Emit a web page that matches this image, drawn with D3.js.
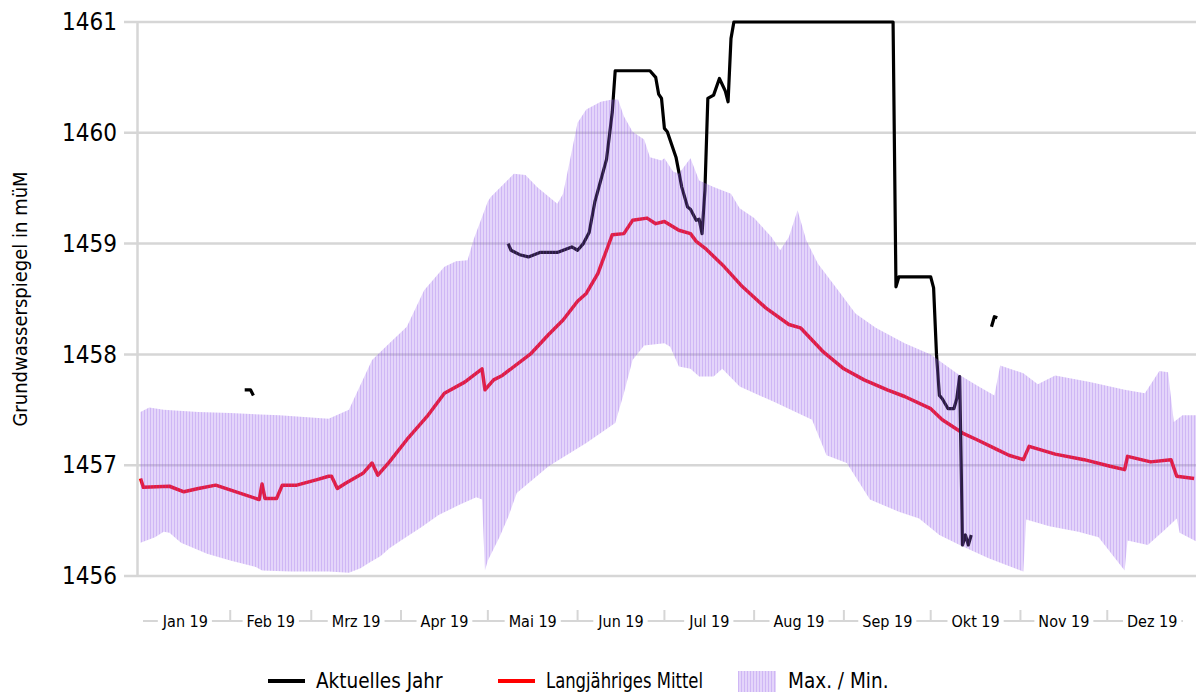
<!DOCTYPE html>
<html><head><meta charset="utf-8">
<script src="https://cdn.jsdelivr.net/npm/d3@7"></script>
<style>
body{margin:0;background:#fff;}
svg{display:block;}
text{font-family:'DejaVu Sans Condensed','DejaVu Sans',sans-serif;fill:#000;}
</style></head><body>
<svg id="chart" width="1196" height="695"></svg>
<script>
// ---- data (day of year 2019, value in müM) ----
const monthLabels = ["Jan 19","Feb 19","Mrz 19","Apr 19","Mai 19","Jun 19","Jul 19","Aug 19","Sep 19","Okt 19","Nov 19","Dez 19"];
const yTicks = [1456,1457,1458,1459,1460,1461];

const meanSeries = [[0,1456.88],[1,1456.80],[10,1456.81],[15,1456.76],[20,1456.79],[26,1456.82],[41,1456.69],[42,1456.83],[43,1456.70],[47,1456.70],[49,1456.82],[54,1456.82],[61,1456.87],[65,1456.90],[66,1456.90],[68,1456.79],[71,1456.84],[77,1456.93],[80,1457.02],[82,1456.91],[86,1457.03],[92,1457.23],[99,1457.44],[105,1457.65],[112,1457.75],[118,1457.87],[119,1457.68],[122,1457.77],[125,1457.81],[135,1458.01],[141,1458.18],[146,1458.31],[151,1458.48],[154,1458.55],[158,1458.73],[161,1458.94],[163,1459.08],[167,1459.09],[170,1459.21],[175,1459.23],[178,1459.18],[181,1459.20],[186,1459.12],[190,1459.09],[192,1459.02],[195,1458.96],[201,1458.81],[208,1458.61],[216,1458.42],[224,1458.27],[228,1458.24],[236,1458.02],[243,1457.87],[250,1457.77],[258,1457.68],[264,1457.62],[273,1457.51],[277,1457.41],[284,1457.29],[289,1457.23],[296,1457.14],[300,1457.09],[305,1457.05],[307,1457.17],[316,1457.10],[326,1457.05],[335,1456.99],[340,1456.96],[341,1457.08],[349,1457.03],[356,1457.05],[358,1456.90],[364,1456.88]];

const maxSeries = [[0,1457.48],[3,1457.52],[8,1457.50],[20,1457.48],[31,1457.47],[48,1457.45],[65,1457.42],[72,1457.50],[80,1457.95],[86,1458.10],[92,1458.25],[98,1458.58],[105,1458.79],[109,1458.84],[113,1458.85],[115,1459.03],[120,1459.38],[121,1459.42],[129,1459.63],[133,1459.62],[137,1459.51],[144,1459.36],[146,1459.45],[151,1460.09],[154,1460.21],[159,1460.28],[163,1460.30],[165,1460.30],[167,1460.15],[170,1460.01],[174,1459.94],[176,1459.78],[180,1459.75],[181,1459.77],[184,1459.65],[186,1459.63],[190,1459.77],[193,1459.57],[198,1459.51],[204,1459.45],[207,1459.32],[212,1459.23],[218,1459.06],[221,1458.94],[224,1459.06],[227,1459.30],[230,1459.03],[234,1458.82],[241,1458.58],[247,1458.37],[254,1458.24],[264,1458.10],[273,1458.00],[282,1457.83],[289,1457.72],[295,1457.63],[297,1457.90],[305,1457.83],[310,1457.73],[316,1457.81],[328,1457.75],[340,1457.68],[347,1457.65],[352,1457.85],[355,1457.84],[357,1457.39],[360,1457.45],[365,1457.45]];

const minSeries = [[0,1456.30],[5,1456.35],[8,1456.40],[10,1456.39],[14,1456.30],[23,1456.20],[31,1456.14],[40,1456.08],[42,1456.05],[52,1456.04],[65,1456.04],[72,1456.03],[76,1456.07],[79,1456.12],[83,1456.18],[86,1456.25],[90,1456.32],[97,1456.44],[103,1456.55],[110,1456.64],[116,1456.71],[118,1456.69],[119,1456.05],[120,1456.14],[124,1456.35],[127,1456.53],[130,1456.75],[141,1456.99],[154,1457.20],[164,1457.38],[167,1457.65],[170,1457.95],[174,1458.08],[181,1458.10],[183,1458.07],[186,1457.89],[190,1457.87],[193,1457.80],[198,1457.80],[201,1457.87],[207,1457.71],[219,1457.57],[232,1457.41],[237,1457.09],[244,1457.02],[252,1456.69],[262,1456.58],[269,1456.52],[276,1456.37],[283,1456.28],[293,1456.16],[300,1456.09],[305,1456.04],[306,1456.51],[314,1456.45],[324,1456.40],[331,1456.35],[340,1456.05],[341,1456.32],[348,1456.28],[354,1456.42],[358,1456.52],[359,1456.39],[365,1456.31]];

const currentSeries = [[36,1457.68],[38,1457.68],[39,1457.63],[40,null],
 [127,1459.00],[128,1458.94],[131,1458.90],[134,1458.88],[138,1458.92],[144,1458.92],[149,1458.97],[151,1458.94],[153,1459.00],[155,1459.10],[157,1459.38],[161,1459.76],[163,1460.19],[164,1460.56],[176,1460.56],[178,1460.50],[179,1460.35],[180,1460.31],[181,1460.04],[182,1460.01],[185,1459.78],[187,1459.51],[189,1459.33],[190,1459.31],[192,1459.21],[193,1459.22],[194,1459.09],[195,1459.48],[196,1460.31],[198,1460.34],[200,1460.49],[202,1460.38],[203,1460.28],[204,1460.85],[205,1461.00],[260,1461.00],[261,1458.61],[262,1458.70],[273,1458.70],[274,1458.60],[275,1458.00],[276,1457.63],[277,1457.60],[279,1457.51],[281,1457.51],[282,1457.60],[283,1457.80],[284,1456.28],[285,1456.37],[286,1456.28],[287,1456.37],[288,null],
 [294,1458.25],[295,1458.34],[296,1458.33]];

const legendItems = ["Aktuelles Jahr","Langjähriges Mittel","Max. / Min."];

// ---- setup ----
const svg = d3.select("#chart");
const start = new Date(2019,0,1), end = new Date(2020,0,1);
const day = d => d3.timeDay.offset(start, d);
const x = d3.scaleTime().domain([start,end]).range([140.5,1197]);
const y = d3.scaleLinear().domain([1456,1461]).range([576,22]);

const defs = svg.append("defs");
const pat = defs.append("pattern").attr("id","hatch").attr("patternUnits","userSpaceOnUse")
  .attr("width",3).attr("height",3);
pat.append("rect").attr("width",3).attr("height",3).attr("fill","#9c66ea").attr("fill-opacity",0.28);
pat.append("rect").attr("width",1).attr("height",3).attr("fill","#8447dd").attr("fill-opacity",0.22);
defs.append("clipPath").attr("id","plotclip").append("rect")
  .attr("x",137).attr("y",0).attr("width",1059).attr("height",600);

// gridlines
svg.append("g").selectAll("line").data(yTicks).join("line")
  .attr("x1",124).attr("x2",1196).attr("y1",d=>y(d)).attr("y2",d=>y(d))
  .attr("stroke","#d6d6d6").attr("stroke-width",2.5);

// y axis
const yAxis = svg.append("g").attr("transform","translate(137,0)")
  .call(d3.axisLeft(y).tickValues(yTicks).tickFormat(d3.format("d")).tickSize(0).tickPadding(20));
yAxis.select(".domain").attr("stroke","#d6d6d6").attr("stroke-width",2.5);
yAxis.selectAll("text").attr("font-size",24).attr("fill","#000")
  .style("font-family","'DejaVu Sans Condensed','DejaVu Sans',sans-serif");

// title
svg.append("text").attr("transform","translate(27,299) rotate(-90)")
  .attr("text-anchor","middle").attr("font-size",20).text("Grundwasserspiegel in müM");

const plot = svg.append("g").attr("clip-path","url(#plotclip)");
const line = d3.line().defined(d=>d[1]!=null).x(d=>x(day(d[0]))).y(d=>y(d[1]));

plot.append("path").datum(meanSeries).attr("d",line)
  .attr("fill","none").attr("stroke","#ff0000").attr("stroke-width",3.5).attr("stroke-linejoin","round");
plot.append("path").datum(currentSeries).attr("d",line)
  .attr("fill","none").attr("stroke","#000").attr("stroke-width",3.2).attr("stroke-linejoin","round");

// band on top (semi-transparent)
const bandPoly = maxSeries.concat(minSeries.slice().reverse());
plot.append("path").datum(bandPoly).attr("d", d3.line().x(d=>x(day(d[0]))).y(d=>y(d[1])).curve(d3.curveLinearClosed))
  .attr("fill","url(#hatch)");

// x axis
const xa = svg.append("g");
const axY = 621;
xa.append("line").attr("x1",143).attr("x2",1183).attr("y1",axY).attr("y2",axY)
  .attr("stroke","#d6d6d6").attr("stroke-width",2);
const bounds = d3.timeMonth.range(d3.timeMonth.offset(start,1), end);
xa.selectAll("line.tk").data(bounds).join("line").attr("class","tk")
  .attr("x1",d=>x(d)).attr("x2",d=>x(d)).attr("y1",610).attr("y2",axY)
  .attr("stroke","#d6d6d6").attr("stroke-width",2);
const months = d3.timeMonth.range(start,end);
const lab = xa.selectAll("g.lab").data(months).join("g").attr("class","lab");
lab.each(function(d,i){
  const g = d3.select(this);
  const cx = (x(d)+x(d3.timeMonth.offset(d,1)))/2;
  const t = g.append("text").attr("x",cx).attr("y",627).attr("text-anchor","middle")
    .attr("font-size",16).text(monthLabels[i]);
  const bb = t.node().getBBox();
  g.insert("rect","text").attr("x",bb.x-4).attr("y",bb.y).attr("width",bb.width+8).attr("height",bb.height).attr("fill","#fff");
});

// legend
const lg = svg.append("g");
lg.append("line").attr("x1",268).attr("x2",305).attr("y1",681).attr("y2",681).attr("stroke","#000").attr("stroke-width",4);
lg.append("text").attr("x",316).attr("y",688).attr("font-size",20.5).text(legendItems[0]);
lg.append("line").attr("x1",498).attr("x2",535).attr("y1",681).attr("y2",681).attr("stroke","#ff0000").attr("stroke-width",4);
lg.append("text").attr("x",546).attr("y",688).attr("font-size",20.5)
  .attr("textLength",157).attr("lengthAdjust","spacingAndGlyphs").text(legendItems[1]);
lg.append("rect").attr("x",738).attr("y",671).attr("width",38).attr("height",21).attr("fill","url(#hatch)");
lg.append("text").attr("x",788).attr("y",688).attr("font-size",20.5).text(legendItems[2]);
</script>
</body></html>
